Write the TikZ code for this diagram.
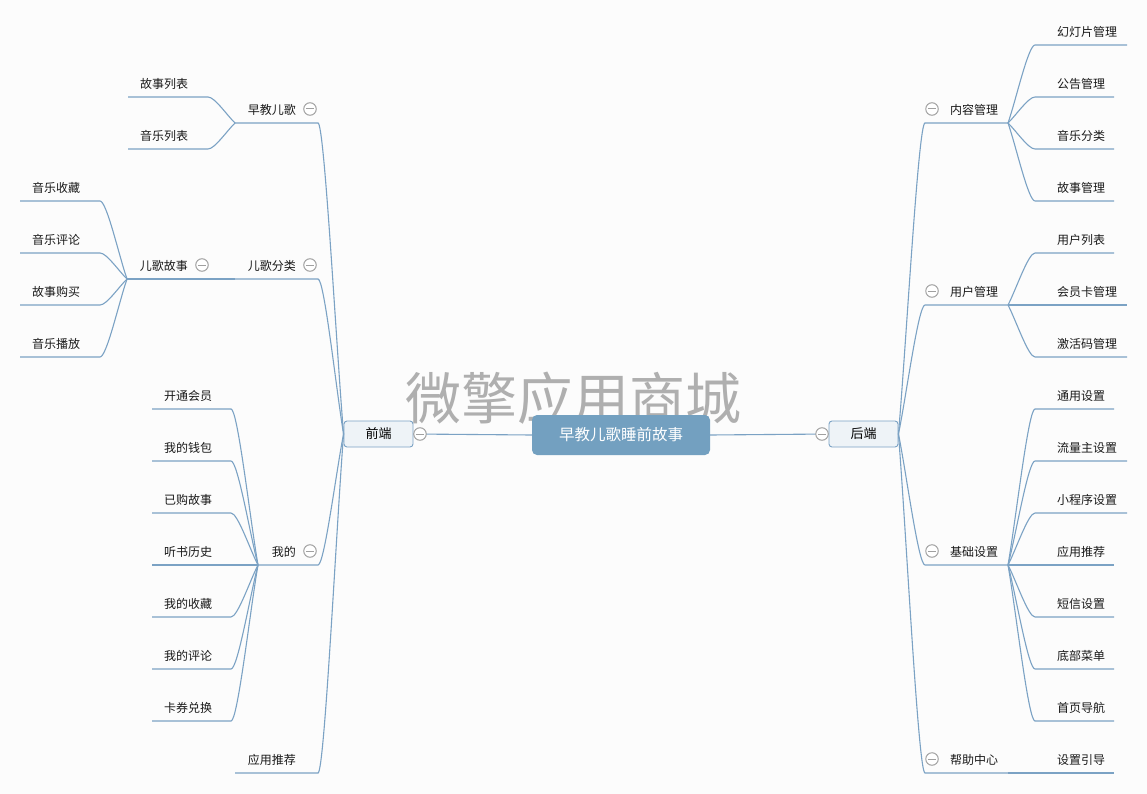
\documentclass[tikz,border=0pt]{standalone}
\usepackage{fontspec}
\newfontfamily\cjk{Noto Sans CJK SC}
\usetikzlibrary{calc}
\definecolor{lnc}{HTML}{7BA2C4}
\definecolor{rootc}{HTML}{73A0C0}
\definecolor{boxc}{HTML}{EEF3F7}
\definecolor{bgc}{HTML}{FCFCFC}
\definecolor{foldc}{HTML}{A0A0A0}
\definecolor{wmc}{HTML}{AFAFAF}
\tikzset{
  conn/.style={draw=lnc,line width=1.1pt},
  txt/.style={font=\cjk\fontsize{12}{14}\selectfont,inner sep=0pt,text=black!90},
  fold/.style={circle,draw=foldc,fill=white,minimum size=12.5pt,inner sep=0pt,line width=1pt,
    path picture={\draw[foldc,line width=1pt] ([xshift=-4.2pt]path picture bounding box.center) -- ([xshift=4.2pt]path picture bounding box.center);}},
  sidebox/.style={draw=lnc,fill=boxc,rounded corners=3pt,minimum width=69pt,minimum height=26pt,inner sep=0pt,line width=0.9pt,font=\cjk\fontsize{13}{15}\selectfont},
  rootbox/.style={fill=rootc,rounded corners=5pt,minimum width=178pt,minimum height=40pt,inner sep=0pt,text=white,font=\cjk\fontsize{15.5}{18}\selectfont},
  wmark/.style={font=\cjk\fontsize{56}{60}\selectfont,text=wmc,inner sep=0pt}
}
\newcommand\bzpath[2]{let \p1=(#1),\p2=(#2) in (#1) .. controls ($(#1)!0.3!(#2)$) and ({\x1+0.75*(\x2-\x1)},\y2) .. (#2)}
% right leaf: name, junction, underline y, right x, text
\newcommand\leafR[5]{%
  \node[txt,anchor=west] (#1) at (1057,#3-13) {#5};
  \coordinate (#1s) at (1035,#3);
  \coordinate (#1e) at (#4,#3);
  \draw[conn] \bzpath{#2}{#1s} -- (#1e);
}
% left leaf: name, junction, underline y, left x, right x, text
\newcommand\leafL[6]{%
  \node[txt,anchor=west] (#1) at (#4+12,#3-13) {#6};
  \coordinate (#1s) at (#5,#3);
  \coordinate (#1e) at (#4,#3);
  \draw[conn] \bzpath{#2}{#1s} -- (#1e);
}
% right level-1: name, y, text
\newcommand\midR[3]{%
  \coordinate (#1a) at (925,#2);
  \coordinate (#1j) at (1008,#2);
  \draw[conn] \bzpath{be.east}{#1a} -- (#1j);
  \node[txt,anchor=west] (#1) at (950,#2-13) {#3};
  \node[fold] (#1f) at (932,#2-14) {};
}
% left level-1: name, y, text, junction x
\newcommand\midL[4]{%
  \coordinate (#1a) at (318,#2);
  \coordinate (#1j) at (#4,#2);
  \draw[conn] \bzpath{fe.west}{#1a} -- (#1j);
  \node[txt,anchor=east] (#1) at (296,#2-13) {#3};
}
\begin{document}
\begin{tikzpicture}[x=1pt,y=-1pt]
\fill[bgc] (0,0) rectangle (1147,794);
\useasboundingbox (0,0) rectangle (1147,794);

\node[wmark] (wm) at (573,398) {微擎应用商城};

\node[rootbox] (root) at (621,435) {早教儿歌睡前故事};
\node[sidebox] (fe) at (378.5,434) {前端};
\node[sidebox] (be) at (863.5,434) {后端};
\draw[conn] (root.west) -- (fe.east);
\draw[conn] (root.east) -- (be.west);
\node[fold] (fef) at (420,434) {};
\node[fold] (bef) at (822,434) {};

% ---------- left ----------
\midL{A}{123}{早教儿歌}{235}
\node[fold] (Af) at (310,109) {};
\leafL{A1}{Aj}{97}{128}{208}{故事列表}
\leafL{A2}{Aj}{149}{128}{208}{音乐列表}

\midL{B}{279}{儿歌分类}{235}
\node[fold] (Bf) at (310,265) {};
\coordinate (B1s) at (208,279);
\coordinate (B1j) at (127,279);
\draw[conn] (Bj) -- (B1s) -- (B1j);
\node[txt,anchor=east] (B1) at (188,266) {儿歌故事};
\node[fold] (B1f) at (202,265) {};
\leafL{B11}{B1j}{201}{20}{100}{音乐收藏}
\leafL{B12}{B1j}{253}{20}{100}{音乐评论}
\leafL{B13}{B1j}{305}{20}{100}{故事购买}
\leafL{B14}{B1j}{357}{20}{100}{音乐播放}

\midL{C}{565}{我的}{258}
\node[fold] (Cf) at (310,551) {};
\leafL{C1}{Cj}{409}{152}{231}{开通会员}
\leafL{C2}{Cj}{461}{152}{231}{我的钱包}
\leafL{C3}{Cj}{513}{152}{231}{已购故事}
\leafL{C4}{Cj}{565}{152}{231}{听书历史}
\leafL{C5}{Cj}{617}{152}{231}{我的收藏}
\leafL{C6}{Cj}{669}{152}{231}{我的评论}
\leafL{C7}{Cj}{721}{152}{231}{卡券兑换}

\midL{D}{773}{应用推荐}{235}

% ---------- right ----------
\midR{E}{123}{内容管理}
\leafR{E1}{Ej}{45}{1127}{幻灯片管理}
\leafR{E2}{Ej}{97}{1114}{公告管理}
\leafR{E3}{Ej}{149}{1114}{音乐分类}
\leafR{E4}{Ej}{201}{1114}{故事管理}

\midR{F}{305}{用户管理}
\leafR{F1}{Fj}{253}{1114}{用户列表}
\leafR{F2}{Fj}{305}{1127}{会员卡管理}
\leafR{F3}{Fj}{357}{1127}{激活码管理}

\midR{G}{565}{基础设置}
\leafR{G1}{Gj}{409}{1114}{通用设置}
\leafR{G2}{Gj}{461}{1127}{流量主设置}
\leafR{G3}{Gj}{513}{1127}{小程序设置}
\leafR{G4}{Gj}{565}{1114}{应用推荐}
\leafR{G5}{Gj}{617}{1114}{短信设置}
\leafR{G6}{Gj}{669}{1114}{底部菜单}
\leafR{G7}{Gj}{721}{1114}{首页导航}

\midR{H}{773}{帮助中心}
\leafR{H1}{Hj}{773}{1114}{设置引导}
\end{tikzpicture}
\end{document}
